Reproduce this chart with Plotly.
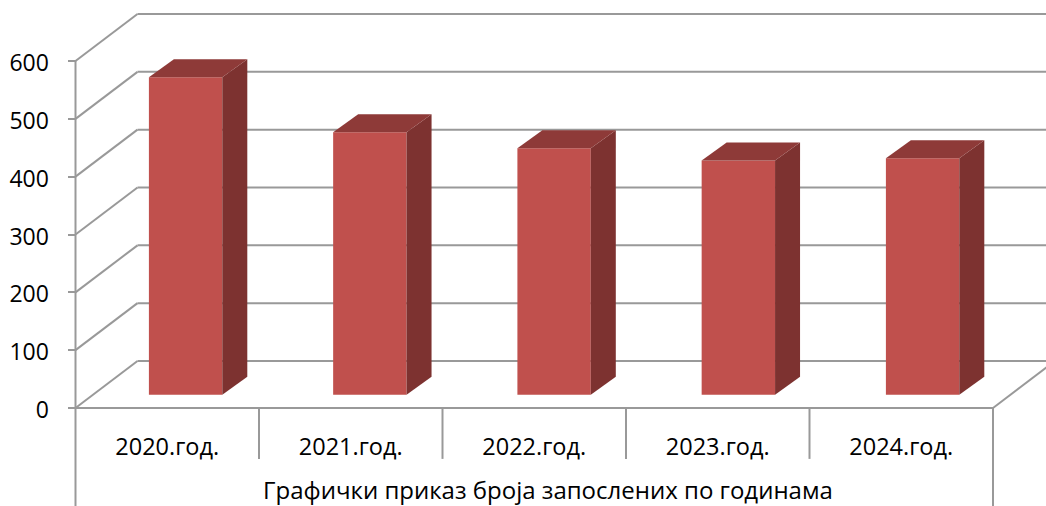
import plotly.graph_objects as go

categories = ["2020.год.", "2021.год.", "2022.год.", "2023.год.", "2024.год."]
employees = [549, 454, 426, 405, 409]
y_ticks = [0, 100, 200, 300, 400, 500, 600]
axis_title = "Графички приказ броја запослених по годинама"

W, H = 1046, 506
X0_PX, FLOOR_PX = 75.5, 408.0
CAT_PX = (993 - X0_PX) / len(categories)
UNIT_PX = (408 - 61) / 600.0
WALL_DX, WALL_DY = 62 / CAT_PX, 47 / UNIT_PX        # depth of the chart box
BAR_DX, BAR_DY = 25 / CAT_PX, 18 / UNIT_PX          # depth of a bar
BAR_W = 0.4
BAR_PITCH = 184.25 / CAT_PX                         # bars drift slightly from the category grid
BAR_FIRST, BAR_BASE = 0.6, 23                       # bar front sits inside the floor
GRID = "#999999"
LW = 2
FONT = "Open Sans"

n = len(categories)
shapes = []


def seg(x0, y0, x1, y1):
    shapes.append(dict(type="line", xref="x", yref="y", x0=x0, y0=y0, x1=x1, y1=y1,
                       layer="below", line=dict(color=GRID, width=LW)))


y_bottom = -(H - FLOOR_PX) / UNIT_PX
y_top = FLOOR_PX / UNIT_PX
x_left = -X0_PX / CAT_PX
x_right = (W - X0_PX) / CAT_PX

for t in y_ticks:
    seg(0, t, WALL_DX, t + WALL_DY)
    seg(WALL_DX, t + WALL_DY, n + WALL_DX, t + WALL_DY)
seg(n, 0, n + WALL_DX, WALL_DY)
seg(0, 0, n, 0)
seg(0, y_bottom, 0, y_ticks[-1])
seg(n, y_bottom, n, 0)
for i in range(1, n):
    seg(i, 0, i, -88)

fig = go.Figure()
centers = [BAR_FIRST + i * BAR_PITCH for i in range(n)]
fig.add_trace(go.Bar(x=centers, y=employees, base=BAR_BASE, width=BAR_W,
                     marker=dict(color="#C0504D", line=dict(width=0)), showlegend=False))

for c, v in zip(centers, employees):
    r = c + BAR_W / 2
    l = c - BAR_W / 2
    top = BAR_BASE + v
    fig.add_trace(go.Scatter(
        x=[r, r + BAR_DX, r + BAR_DX, r, r],
        y=[BAR_BASE, BAR_BASE + BAR_DY, top + BAR_DY, top, BAR_BASE],
        mode="lines", fill="toself", fillcolor="#7D3230", line=dict(width=0), showlegend=False))
    fig.add_trace(go.Scatter(
        x=[l, r, r + BAR_DX, l + BAR_DX, l],
        y=[top, top, top + BAR_DY, top + BAR_DY, top],
        mode="lines", fill="toself", fillcolor="#8E3A38", line=dict(width=0), showlegend=False))

fig.add_annotation(x=2.573, y=-141, xref="x", yref="y", text=axis_title, showarrow=False,
                   borderpad=0, font=dict(family=FONT, size=24, color="#000000"))

fig.update_layout(
    width=W, height=H, margin=dict(l=0, r=0, t=0, b=0),
    paper_bgcolor="white", plot_bgcolor="white", shapes=shapes, showlegend=False,
    font=dict(family=FONT, color="#000000"),
    xaxis=dict(range=[x_left, x_right], anchor="free", position=(H - FLOOR_PX) / H,
               tickmode="array", tickvals=[i + 0.5 for i in range(n)], ticktext=categories,
               showgrid=False, zeroline=False, ticks="", ticklabelstandoff=22,
               tickfont=dict(family=FONT, size=23.5)),
    yaxis=dict(range=[y_bottom, y_top], anchor="free", position=X0_PX / W,
               tickmode="array", tickvals=y_ticks, showgrid=False, zeroline=False,
               ticks="outside", ticklen=8, tickwidth=LW, tickcolor=GRID, ticklabelstandoff=14,
               ticklabelshift=2, tickfont=dict(family=FONT, size=23)),
)

fig.write_html("out.html", config=dict(displayModeBar=False),
               post_script="document.body.style.margin='0';document.documentElement.style.overflow='hidden';")
